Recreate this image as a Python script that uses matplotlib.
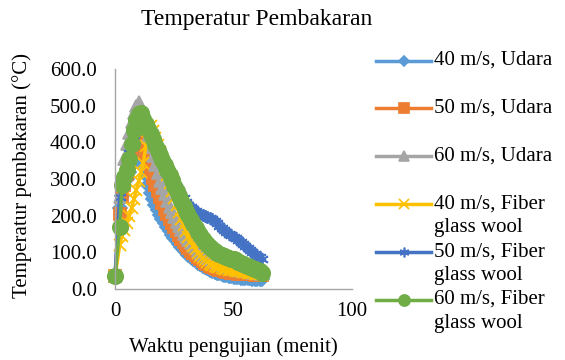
import matplotlib
matplotlib.use("Agg")
import matplotlib.pyplot as plt
from matplotlib.lines import Line2D
from matplotlib.ticker import FormatStrFormatter

plt.rcParams["font.family"] = "serif"
plt.rcParams["font.serif"] = ["Liberation Serif", "DejaVu Serif"]

# waktu pengujian (menit)
waktu = [0] + list(range(2, 63))

udara_40 = [35,
            220, 255, 280, 300, 320, 338, 355, 368, 375,
            362, 340, 312, 285, 262, 245, 230, 216, 203, 191,
            180, 169, 158, 148, 139, 130, 122, 114, 107, 100,
            94, 88, 82, 77, 72, 67, 63, 59, 56, 53,
            50, 47, 45, 43, 41, 39, 37, 36, 35, 34,
            33, 32, 31, 30, 30, 29, 29, 28, 28, 27, 27, 27]
udara_50 = [35,
            205, 250, 285, 315, 345, 370, 392, 410, 420,
            412, 395, 372, 348, 325, 304, 285, 267, 250, 234,
            219, 205, 192, 180, 168, 157, 147, 137, 128, 120,
            112, 105, 98, 92, 86, 81, 76, 72, 68, 64,
            61, 58, 55, 53, 51, 49, 47, 46, 45, 44,
            43, 42, 42, 41, 41, 40, 40, 40, 39, 39, 39, 39]
udara_60 = [35,
            250, 310, 355, 395, 425, 455, 480, 500, 510,
            495, 470, 443, 415, 388, 362, 338, 316, 295, 276,
            258, 241, 225, 210, 196, 183, 171, 160, 150, 141,
            133, 125, 118, 111, 105, 99, 94, 89, 85, 81,
            77, 74, 71, 68, 65, 63, 61, 59, 57, 55,
            53, 52, 50, 49, 48, 47, 46, 45, 44, 43, 42, 41]
fiber_40 = [35,
            120, 145, 160, 180, 200, 220, 245, 270, 295,
            320, 345, 390, 430, 445, 432, 413, 393, 373, 352,
            331, 310, 289, 268, 248, 228, 209, 191, 174, 158,
            143, 130, 118, 108, 99, 91, 84, 78, 73, 69,
            66, 63, 61, 59, 57, 55, 54, 53, 52, 51,
            50, 49, 48, 47, 46, 45, 44, 43, 42, 41, 40, 40]
fiber_50 = [35,
            250, 285, 310, 340, 370, 400, 420, 440, 455,
            460, 455, 445, 433, 420, 407, 394, 381, 368, 355,
            342, 329, 316, 303, 291, 279, 268, 257, 247, 238,
            230, 223, 217, 212, 208, 205, 202, 200, 197, 194,
            190, 185, 179, 173, 167, 161, 156, 151, 147, 143,
            139, 134, 129, 124, 118, 112, 106, 100, 95, 90, 86, 82]
fiber_60 = [35,
            170, 285, 305, 325, 355, 395, 435, 462, 478,
            480, 465, 450, 436, 422, 408, 394, 380, 366, 352,
            338, 324, 310, 296, 282, 268, 254, 240, 227, 214,
            201, 189, 177, 166, 156, 146, 137, 129, 122, 115,
            109, 104, 99, 95, 92, 89, 87, 85, 83, 81,
            78, 75, 72, 69, 66, 63, 60, 57, 54, 51, 48, 45]

series = [udara_40, udara_50, udara_60, fiber_40, fiber_50, fiber_60]
labels = ["40 m/s, Udara", "50 m/s, Udara", "60 m/s, Udara",
          "40 m/s, Fiber\nglass wool", "50 m/s, Fiber\nglass wool",
          "60 m/s, Fiber\nglass wool"]
colors = ["#5B9BD5", "#ED7D31", "#A5A5A5", "#FFC000", "#4472C4", "#70AD47"]
markers = ["D", "s", "^", "x", (6, 2, 0), "o"]
msizes = [7, 8, 9, 9, 9, 11]
leg_sizes = [5, 7, 7, 7, 7, 8]

fig = plt.figure(figsize=(5.65, 3.6), dpi=100)
ax = fig.add_axes([115 / 565, 1 - 289 / 360, 237 / 565, 220 / 360])

for vals, c, m, ms in zip(series, colors, markers, msizes):
    ax.plot(waktu, vals, color=c, lw=2.5, marker=m, ms=ms, mew=1.3,
            mfc=c, mec=c, clip_on=False)

ax.set_xlim(0, 100)
ax.set_ylim(0, 600)
ax.set_xticks([0, 50, 100])
ax.set_yticks(range(0, 601, 100))
ax.yaxis.set_major_formatter(FormatStrFormatter("%.1f"))
ax.tick_params(length=0, labelsize=15)
ax.tick_params(axis="y", pad=13)
ax.tick_params(axis="x", pad=9)
for s in ["top", "right"]:
    ax.spines[s].set_visible(False)
for s in ["left", "bottom"]:
    ax.spines[s].set_color("#a6a6a6")
    ax.spines[s].set_linewidth(1)

fig.text(257 / 565, 1 - 20 / 360, "Temperatur Pembakaran", fontsize=17,
         ha="center", va="center")
fig.text(233 / 565, 1 - 347 / 360, "Waktu pengujian (menit)", fontsize=15,
         ha="center", va="center")
fig.text(22 / 565, 1 - 175 / 360, "Temperatur pembakaran (°C)", fontsize=15,
         ha="center", va="center", rotation=90)

# legend drawn by hand so the wrapped entries sit like the original
for i, (lab, c, m, ms) in enumerate(zip(labels, colors, markers, leg_sizes)):
    yp = 60.5 + i * 47.8
    y = 1 - yp / 360
    fig.add_artist(Line2D([376 / 565, 403.5 / 565, 431 / 565], [y, y, y],
                          transform=fig.transFigure, color=c, lw=2.5,
                          marker=m, ms=ms, mew=1.2, mfc=c, mec=c,
                          markevery=[1]))
    for j, line in enumerate(lab.split("\n")):
        fig.text(434 / 565, 1 - (yp + j * 24) / 360, line, fontsize=15,
                 ha="left", va="center")

fig.savefig("out.png", dpi=100)
